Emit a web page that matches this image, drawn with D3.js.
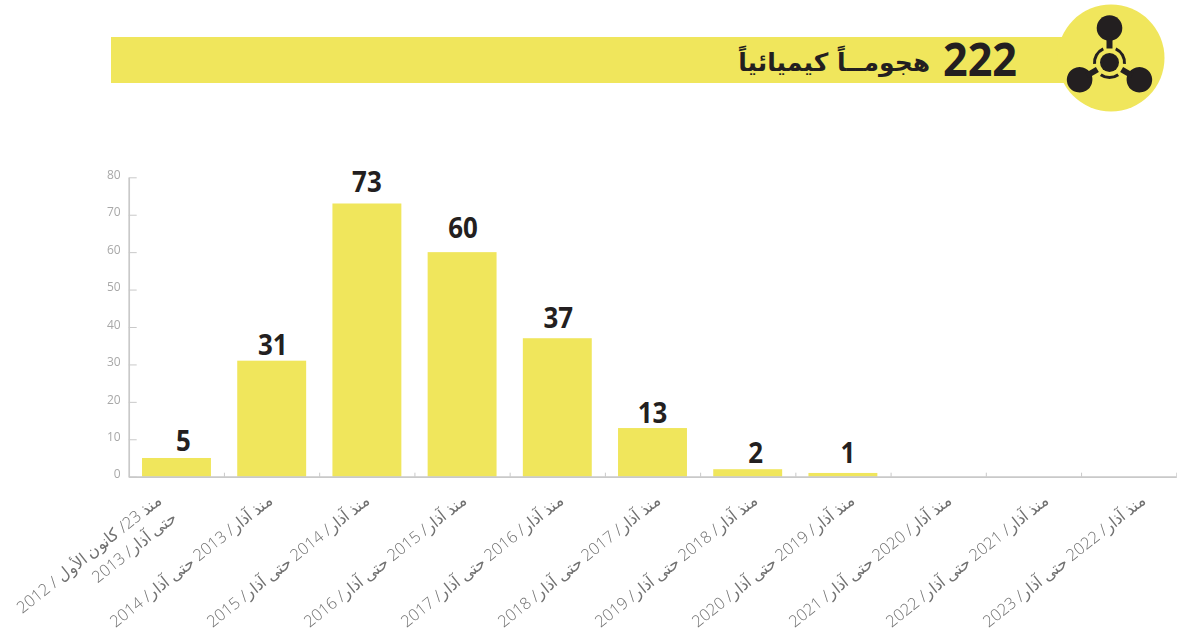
<!DOCTYPE html>
<html lang="ar"><head><meta charset="utf-8">
<style>
html, body { margin: 0; padding: 0; background: #fff; }
svg { display: block; }
.cat { font-family: "Open Sans", "DejaVu Sans", sans-serif; font-size: 16.3px; font-weight: 300; fill: #707174; direction: rtl; }
.val { font-family: "Open Sans", sans-serif; font-size: 29px; font-weight: 700; fill: #231f20; text-anchor: middle; }
.axis text { font-family: "Open Sans", sans-serif; font-size: 12px; font-weight: 400; fill: #a8a8a8; }
.axis path, .axis line { stroke: #c9c9c9; }
.axis path { stroke-width: 1.7; }
</style>
<script src="https://d3js.org/d3.v7.min.js"></script>
</head><body>
<div id="chart"></div>
<script>
// data
const categories = [
  "منذ 23/ كانون الأول / 2012|حتى آذار/ 2013",
  "منذ آذار/ 2013 حتى آذار/ 2014",
  "منذ آذار/ 2014 حتى آذار/ 2015",
  "منذ آذار/ 2015 حتى آذار/ 2016",
  "منذ آذار/ 2016 حتى آذار/ 2017",
  "منذ آذار/ 2017 حتى آذار/ 2018",
  "منذ آذار/ 2018 حتى آذار/ 2019",
  "منذ آذار/ 2019 حتى آذار/ 2020",
  "منذ آذار/ 2020 حتى آذار/ 2021",
  "منذ آذار/ 2021 حتى آذار/ 2022",
  "منذ آذار/ 2022 حتى آذار/ 2023"
];
const attacks = [5, 31, 73, 60, 37, 13, 2, 1, null, null, null];
const yTicks = [0, 10, 20, 30, 40, 50, 60, 70, 80];
const totalLabel = "222";
const titleLabel = "هجومــاً كيميائياً";

// hand placement of the number labels, same as in the original
const labelLift = [7, 6, 11, 14, 10, 5, 6, 10];
const labelShift = [7, 1, 0, 1, 1, 0, 8, 5];

const yellow = "#f0e65c", ink = "#231f20";
const width = 1177, height = 639;

const svg = d3.select("#chart").append("svg")
    .attr("width", width)
    .attr("height", height);

const x = d3.scaleBand()
    .domain(categories)
    .range([128.7, 1176.3])
    .paddingInner(0.276)
    .paddingOuter(0.14)
const edges = d3.scaleLinear()
    .domain([0, categories.length])
    .range([128.7, 1176.3])
const y = d3.scaleLinear()
    .domain([0, 80])
    .range([476.7, 177.3])
// the slanted labels run on a slightly wider step than the bars
const labelX = d3.scalePoint()
    .domain(categories)
    .range([170, 1140])

// header band + icon
svg.append("rect").attr("x", 111).attr("y", 37).attr("width", 960).attr("height", 46).attr("fill", yellow);
svg.append("circle").attr("cx", 1111).attr("cy", 58).attr("r", 53.5).attr("fill", yellow);

const icon = svg.append("g").attr("transform", "translate(1109.5,62.5)");
icon.append("circle").attr("r", 9.5).attr("fill", ink);
[0, 120, 240].forEach(a => {
    const g = icon.append("g").attr("transform", `rotate(${a})`);
    g.append("circle").attr("cy", -34.5).attr("r", 12.8).attr("fill", ink);
    g.append("rect").attr("x", -3).attr("y", -26).attr("width", 6).attr("height", 12).attr("fill", ink);
    g.append("path")
        .attr("d", d3.arc().innerRadius(13.5).outerRadius(16.5).startAngle(Math.PI / 3 - 0.62).endAngle(Math.PI / 3 + 0.62))
        .attr("fill", ink);
});

svg.append("text").text(totalLabel)
    .attr("x", 1017).attr("y", 76)
    .attr("text-anchor", "end")
    .attr("textLength", 74).attr("lengthAdjust", "spacingAndGlyphs")
    .style("font", "700 46px 'Open Sans', sans-serif")
    .attr("fill", ink);
svg.append("text").text(titleLabel)
    .attr("x", 930).attr("y", 71)
    .attr("direction", "rtl")
    .style("font", "700 25px 'DejaVu Sans', sans-serif")
    .attr("fill", ink);

// bars
svg.append("g").attr("fill", yellow)
    .selectAll("rect")
    .data(attacks.map((v, i) => ({ cat: categories[i], v })).filter(d => d.v != null))
    .join("rect")
    .attr("x", d => x(d.cat))
    .attr("y", d => y(d.v))
    .attr("width", x.bandwidth())
    .attr("height", d => y(0) - y(d.v));

svg.append("g")
    .selectAll("text")
    .data(attacks.map((v, i) => ({ cat: categories[i], v, i })).filter(d => d.v != null))
    .join("text")
    .attr("class", "val")
    .attr("x", d => x(d.cat) + x.bandwidth() / 2 + labelShift[d.i])
    .attr("y", d => y(d.v) - labelLift[d.i])
    .attr("textLength", d => String(d.v).length * 14.8)
    .attr("lengthAdjust", "spacingAndGlyphs")
    .text(d => d.v);

// axes
const gy = svg.append("g")
    .attr("class", "axis")
    .style("filter", "grayscale(1)")
    .attr("transform", "translate(128.7,0)")
    .call(d3.axisLeft(y).tickValues(yTicks).tickSize(-8).tickSizeOuter(0).tickPadding(8));
gy.selectAll("text").attr("dy", "0.1em");

const gx = svg.append("g")
    .attr("class", "axis")
    .attr("transform", "translate(0,476.7)")
    .call(d3.axisBottom(edges).tickValues(d3.range(1, categories.length + 1)).tickSize(-4).tickSizeOuter(0).tickFormat(""));

// rotated labels, the first one has two lines
const cats = svg.append("g").style("filter", "grayscale(1)").selectAll("g")
    .data(categories)
    .join("g")
    .attr("transform", d => `translate(${labelX(d) - (d.includes("|") ? 14 : 0)},493) rotate(-38.5)`);
cats.each(function (d) {
    d.split("|").forEach((line, i) => {
        d3.select(this).append("text")
            .attr("class", "cat")
            .attr("y", i * 23)
            .attr("dy", "0.7em")
            .attr("text-anchor", "start")
            .text(line);
    });
});
</script>
</body></html>
